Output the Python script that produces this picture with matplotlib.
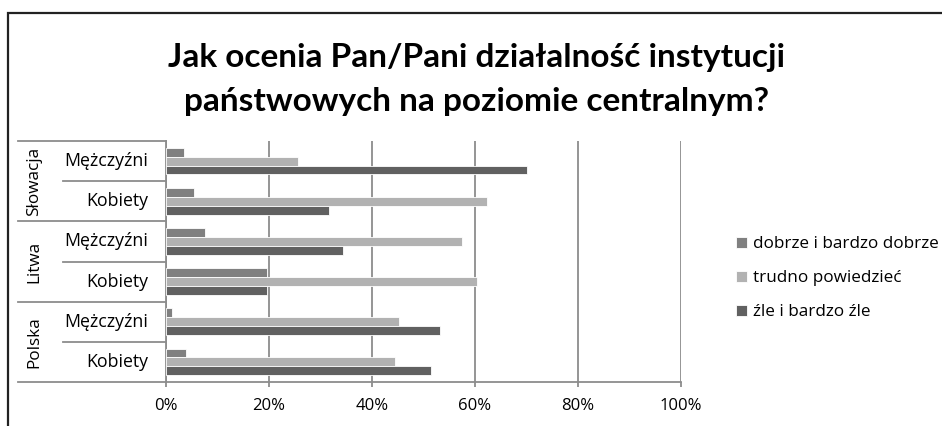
import matplotlib
matplotlib.use("Agg")
import matplotlib.pyplot as plt
from matplotlib.patches import Rectangle
from matplotlib.lines import Line2D
import numpy as np

plt.rcParams['font.family'] = ['Open Sans', 'DejaVu Sans']

# Data (bottom to top)
countries = ["Polska", "Litwa", "Słowacja"]
genders = ["Kobiety", "Mężczyźni"]
categories = ["Polska Kobiety", "Polska Mężczyźni", "Litwa Kobiety",
              "Litwa Mężczyźni", "Słowacja Kobiety", "Słowacja Mężczyźni"]
series_names = ["dobrze i bardzo dobrze", "trudno powiedzieć", "źle i bardzo źle"]
dobrze = [3.8, 1.2, 19.6, 7.5, 5.5, 3.5]
trudno = [44.5, 45.3, 60.4, 57.5, 62.3, 25.6]
zle = [51.4, 53.2, 19.6, 34.4, 31.7, 70.1]
xticks = [0, 20, 40, 60, 80, 100]
xticklabels = ["0%", "20%", "40%", "60%", "80%", "100%"]

colors = ["#808080", "#b2b2b2", "#616161"]

W, H = 942, 426
fig = plt.figure(figsize=(W / 100, H / 100), dpi=100)

# outer chart border (open at right/bottom)
fig.add_artist(Rectangle((8 / W, -0.1), 1.2, 1 - 13 / H + 0.1,
                         transform=fig.transFigure, fill=False,
                         edgecolor="#222222", linewidth=1.6))

AXW = 515
left, right = 166 / W, (166 + AXW) / W
bottom, top = 1 - 382 / H, 1 - 141 / H
ax = fig.add_axes([left, bottom, right - left, top - bottom])

y = np.arange(len(categories))
bh = 0.22
offsets = [bh, 0, -bh]
for vals, off, c, name in zip([dobrze, trudno, zle], offsets, colors, series_names):
    ax.barh(y + off, vals, height=bh, color=c, edgecolor="white",
            linewidth=0.6, label=name, zorder=3)

ax.set_xlim(0, 100)
ax.set_ylim(-0.5, len(categories) - 0.5)
ax.set_xticks(xticks)
ax.set_xticklabels(xticklabels, fontsize=12)
ax.xaxis.grid(True, color="#8c8c8c", linewidth=1.3, zorder=0)
ax.tick_params(axis='x', length=3.5, color="#8c8c8c", width=1.3, pad=8)
ax.set_yticks([])
for s in ["top", "right"]:
    ax.spines[s].set_visible(False)
for s in ["left", "bottom"]:
    ax.spines[s].set_color("#8c8c8c")
    ax.spines[s].set_linewidth(1.3)

# multi-level category labels
trans = ax.get_yaxis_transform()
x_inner_start = (63 - 166) / AXW
x_outer_start = (18 - 166) / AXW
for i, cat in enumerate(categories):
    g = genders[i % 2]
    ax.text(-18 / AXW, i, g, transform=trans, ha="right", va="center", fontsize=12.8)
for b in np.arange(-0.5, len(categories), 1.0):
    k = int(round(b + 0.5))
    xs = x_outer_start if k % 2 == 0 else x_inner_start
    ax.add_line(Line2D([xs, 0], [b, b], transform=trans, color="#8c8c8c",
                       linewidth=1.3, clip_on=False))
for j, c in enumerate(countries):
    ax.text((34 - 166) / AXW, 2 * j + 0.5, c, transform=trans, rotation=90,
            ha="center", va="center", fontsize=12.3)

fig.text(477 / W, 1 - 57 / H, "Jak ocenia Pan/Pani działalność instytucji",
         ha="center", va="center", fontsize=24, fontweight="bold", family="Lato")
fig.text(477 / W, 1 - 101 / H, "państwowych na poziomie centralnym?",
         ha="center", va="center", fontsize=24, fontweight="bold", family="Lato")

leg = fig.legend(loc="upper left", bbox_to_anchor=(721 / W, 1 - 221 / H),
                 frameon=False, fontsize=12.3, handlelength=0.65, handleheight=0.65,
                 handletextpad=0.35, labelspacing=1.05)

fig.savefig("out.png", dpi=100)
